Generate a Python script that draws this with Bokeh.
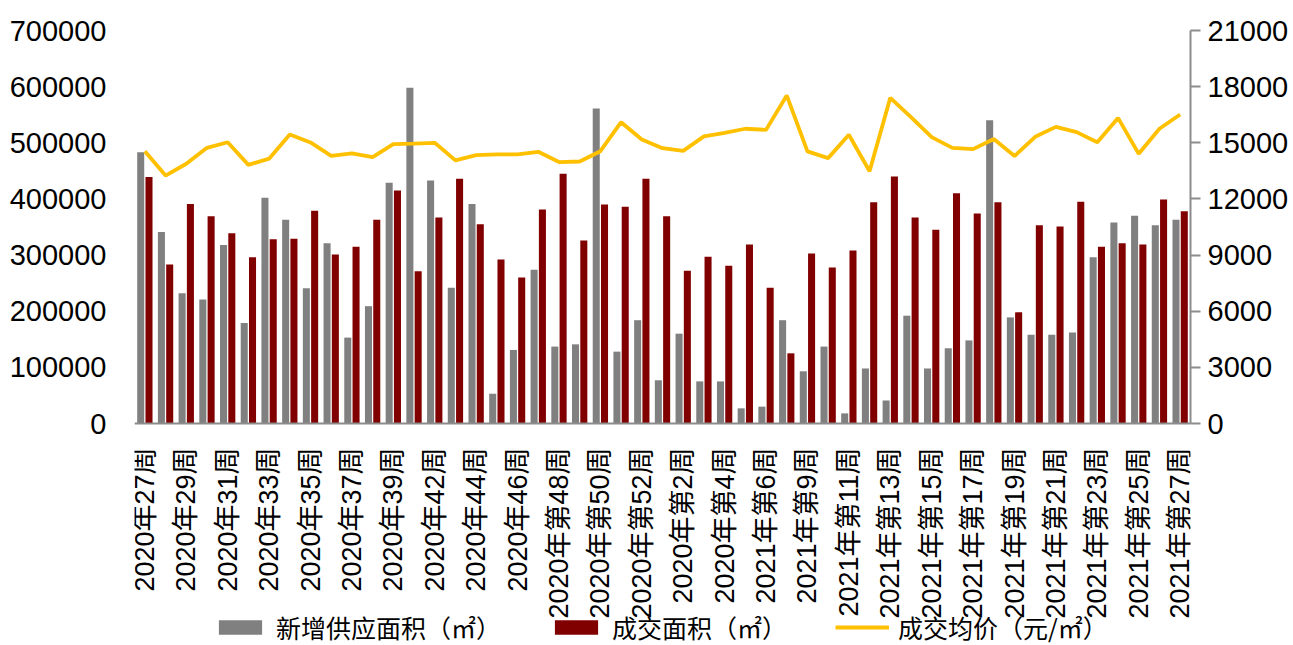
import math
from bokeh.plotting import figure
from bokeh.models import (ColumnDataSource, Range1d, LinearAxis, FixedTicker,
                          Legend, LegendItem, BasicTickFormatter)
from bokeh.transform import dodge
from bokeh.embed import file_html
from bokeh.resources import INLINE

categories = [
    "2020年27周", "2020年28周", "2020年29周", "2020年30周", "2020年31周",
    "2020年32周", "2020年33周", "2020年34周", "2020年35周", "2020年36周",
    "2020年37周", "2020年38周", "2020年39周", "2020年40周", "2020年42周",
    "2020年43周", "2020年44周", "2020年45周", "2020年46周", "2020年第47周",
    "2020年第48周", "2020年第49周", "2020年第50周", "2020年第51周", "2020年第52周",
    "2020年第1周", "2020年第2周", "2020年第3周", "2020年第4周", "2021年第5周",
    "2021年第6周", "2021年第8周", "2021年第9周", "2021年第10周", "2021年第11周",
    "2021年第12周", "2021年第13周", "2021年第14周", "2021年第15周", "2021年第16周",
    "2021年第17周", "2021年第18周", "2021年第19周", "2021年第20周", "2021年第21周",
    "2021年第22周", "2021年第23周", "2021年第24周", "2021年第25周", "2021年第26周",
    "2021年第27周",
]

supply_area = [
    483000, 341000, 232000, 221000, 318000, 179000, 402000, 363000, 241000, 321000,
    153000, 209000, 429000, 598000, 433000, 242000, 391000, 53000, 131000, 274000,
    137000, 141000, 561000, 128000, 184000, 77000, 160000, 75000, 75000, 27000,
    30000, 184000, 93000, 137000, 18000, 98000, 41000, 192000, 98000, 134000,
    148000, 540000, 189000, 158000, 158000, 162000, 296000, 358000, 370000, 353000,
    363000,
]

deal_area = [
    439000, 283000, 391000, 369000, 339000, 296000, 328000, 329000, 379000, 301000,
    315000, 363000, 415000, 271000, 367000, 436000, 355000, 292000, 260000, 381000,
    445000, 326000, 390000, 386000, 436000, 369000, 272000, 297000, 281000, 319000,
    242000, 125000, 303000, 278000, 308000, 394000, 440000, 367000, 345000, 410000,
    374000, 394000, 198000, 353000, 351000, 395000, 315000, 321000, 319000, 399000,
    378000,
]

avg_price = [
    14550, 13250, 13880, 14730, 15030, 13820, 14150, 15440, 15020, 14300,
    14430, 14230, 14930, 14960, 15000, 14060, 14340, 14380, 14380, 14520,
    13970, 14000, 14550, 16100, 15180, 14710, 14570, 15340, 15530, 15750,
    15690, 17530, 14540, 14180, 15430, 13480, 17400, 16370, 15300, 14730,
    14660, 15200, 14290, 15320, 15850, 15570, 15030, 16330, 14410, 15750,
    16510,
]

legend_labels = ["新增供应面积（㎡）", "成交面积（㎡）", "成交均价（元/㎡）"]

LATIN = "'Liberation Sans', 'Noto Sans CJK SC'"
CJK = "'Noto Sans CJK SC'"

n = len(categories)
src = ColumnDataSource(dict(
    x=list(range(n)), cat=categories, supply=supply_area,
    deal=deal_area, price=avg_price,
))

# layout: frame spans the full height below the top border; the value axes
# start below zero so that the label / legend band sits inside the frame
W, H = 1293, 645
TOP, ZERO_Y = 30, 423
below_frac = (H - ZERO_Y) / (ZERO_Y - TOP)
area_max, price_max = 700000, 21000

p = figure(width=W, height=H, output_backend="svg", toolbar_location=None,
           x_range=Range1d(-0.5, n - 0.5),
           y_range=Range1d(-area_max * below_frac, area_max),
           min_border_left=134, min_border_right=103, min_border_top=TOP,
           min_border_bottom=0)
p.outline_line_color = None
p.xgrid.visible = False
p.ygrid.visible = False
p.background_fill_color = "white"
p.border_fill_color = "white"

p.extra_y_ranges = {"price": Range1d(-price_max * below_frac, price_max)}

r_sup = p.vbar(x=dodge("x", -0.2, range=p.x_range), top="supply", width=0.34,
               source=src, fill_color="#808080", line_color=None)
r_deal = p.vbar(x=dodge("x", 0.2, range=p.x_range), top="deal", width=0.34,
                source=src, fill_color="#800000", line_color=None)
r_price = p.line(x="x", y="price", source=src, y_range_name="price",
                 line_color="#FFC000", line_width=3.8)

# bottom axis, fixed at value 0
xa = p.xaxis[0]
xa.fixed_location = 0
xa.ticker = FixedTicker(ticks=list(range(0, n, 2)))
xa.major_label_overrides = {i: categories[i] for i in range(0, n, 2)}
xa.major_label_orientation = math.pi / 2
xa.major_label_text_font = LATIN
xa.major_label_text_font_size = "27px"
xa.major_label_text_color = "black"
xa.major_label_standoff = 18
xa.major_tick_line_color = None
xa.minor_tick_line_color = None
xa.axis_line_color = "#8c8c8c"
xa.axis_line_width = 2

# left axis
ya = p.yaxis[0]
ya.ticker = FixedTicker(ticks=list(range(0, area_max + 1, 100000)))
ya.formatter = BasicTickFormatter(use_scientific=False)
ya.major_label_text_font = LATIN
ya.major_label_text_font_size = "29px"
ya.major_label_text_color = "black"
ya.major_label_standoff = 22
ya.axis_line_color = None
ya.major_tick_line_color = None
ya.minor_tick_line_color = None

# right axis
ra = LinearAxis(y_range_name="price", bounds=(0, price_max),
                ticker=FixedTicker(ticks=list(range(0, price_max + 1, 3000))),
                formatter=BasicTickFormatter(use_scientific=False))
ra.major_label_text_font = LATIN
ra.major_label_text_font_size = "29px"
ra.major_label_text_color = "black"
ra.major_label_standoff = 7
ra.axis_line_color = "#8c8c8c"
ra.axis_line_width = 2
ra.major_tick_line_color = "#8c8c8c"
ra.major_tick_line_width = 2
ra.major_tick_out = 10
ra.major_tick_in = 0
ra.minor_tick_line_color = None
p.add_layout(ra, "right")

legend = Legend(items=[
    LegendItem(label=legend_labels[0], renderers=[r_sup]),
    LegendItem(label=legend_labels[1], renderers=[r_deal]),
    LegendItem(label=legend_labels[2], renderers=[r_price]),
], orientation="horizontal", location=(79, 0), padding=0, margin=0,
    spacing=48, glyph_width=54, glyph_height=18, label_standoff=9,
    label_text_font=CJK, label_text_font_size="25px", label_text_color="black",
    border_line_color=None, background_fill_alpha=0)
p.add_layout(legend, "center")

open("out.html", "w").write(file_html(p, INLINE))
